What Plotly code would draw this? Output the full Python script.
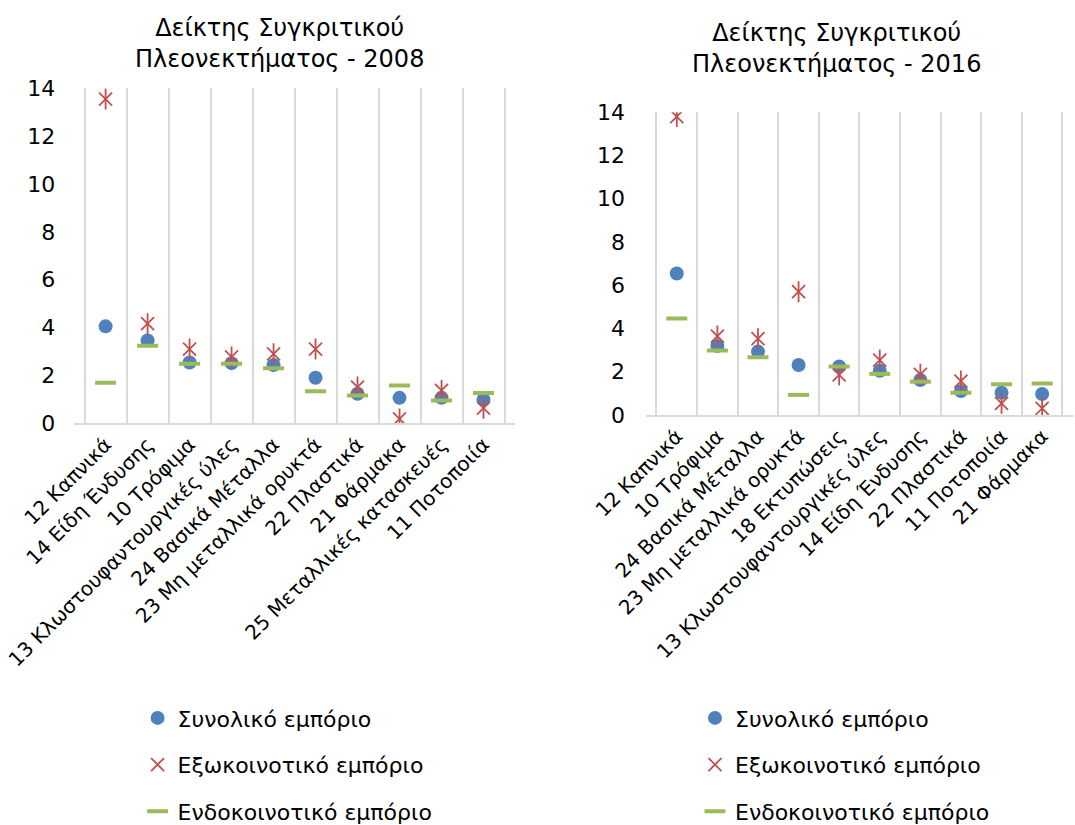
import plotly.graph_objects as go
from plotly.subplots import make_subplots

# 2008
cats_2008 = ["12 Καπνικά", "14 Είδη Ένδυσης", "10 Τρόφιμα", "13 Κλωστουφαντουργικές ύλες",
             "24 Βασικά Μέταλλα", "23 Μη μεταλλικά ορυκτά", "22 Πλαστικά", "21 Φάρμακα",
             "25 Μεταλλικές κατασκευές", "11 Ποτοποιία"]
total_2008 = [4.05, 3.46, 2.54, 2.51, 2.43, 1.90, 1.23, 1.06, 1.06, 0.98]
extra_2008 = [13.55, 4.16, 3.10, 2.77, 2.90, 3.10, 1.51, 0.18, 1.37, 0.63]
intra_2008 = [1.69, 3.24, 2.49, 2.49, 2.30, 1.34, 1.16, 1.58, 0.95, 1.26]

# 2016
cats_2016 = ["12 Καπνικά", "10 Τρόφιμα", "24 Βασικά Μέταλλα", "23 Μη μεταλλικά ορυκτά",
             "18 Εκτυπώσεις", "13 Κλωστουφαντουργικές ύλες", "14 Είδη Ένδυσης", "22 Πλαστικά",
             "11 Ποτοποιία", "21 Φάρμακα"]
total_2016 = [6.54, 3.19, 2.93, 2.31, 2.24, 2.04, 1.62, 1.11, 1.03, 0.97]
extra_2016 = [13.8, 3.65, 3.53, 5.70, 1.85, 2.54, 1.88, 1.57, 0.54, 0.31]
intra_2016 = [4.46, 2.98, 2.67, 0.93, 2.24, 1.90, 1.54, 1.03, 1.42, 1.46]

series_names = ["Συνολικό εμπόριο", "Εξωκοινοτικό εμπόριο", "Ενδοκοινοτικό εμπόριο"]
FONT = "DejaVu Sans"
BLUE, RED, GREEN = "#4F81BD", "#C0504D", "#9BBB59"
GRID = "#D9D9D9"

fig = make_subplots(rows=1, cols=2)

panels = [
    (cats_2008, total_2008, extra_2008, intra_2008, 1, "legend"),
    (cats_2016, total_2016, extra_2016, intra_2016, 2, "legend2"),
]
for cats, tot, ext, intra, col, leg in panels:
    fig.add_trace(go.Scatter(x=cats, y=tot, mode="markers", name=series_names[0], legend=leg,
                             legendgroup=f"{leg}a",
                             marker=dict(symbol="circle", size=14, color=BLUE)), row=1, col=col)
    fig.add_trace(go.Scatter(x=cats, y=ext, mode="markers", name=series_names[1], legend=leg,
                             legendgroup=f"{leg}b",
                             marker=dict(symbol="x-thin-open", size=13, color=RED,
                                         line=dict(color=RED, width=1.8))), row=1, col=col)
    # vertical stroke of the six-armed star
    fig.add_trace(go.Scatter(x=cats, y=ext, mode="markers", name=series_names[1], legend=leg,
                             legendgroup=f"{leg}b", showlegend=False, hoverinfo="skip",
                             marker=dict(symbol="line-ns-open", size=15, color=RED,
                                         line=dict(color=RED, width=1.8))), row=1, col=col)
    fig.add_trace(go.Scatter(x=cats, y=intra, mode="markers", name=series_names[2], legend=leg,
                             legendgroup=f"{leg}c",
                             marker=dict(symbol="line-ew-open", size=15, color=GREEN,
                                         line=dict(color=GREEN, width=4))), row=1, col=col)

fig.update_xaxes(type="category", tickson="boundaries", showgrid=True, gridcolor=GRID, gridwidth=1.5,
                 showline=True, linecolor=GRID, linewidth=1.5, ticks="", tickangle=-45,
                 tickfont=dict(size=20, color="black"), automargin=False)
fig.update_yaxes(range=[0, 14], dtick=2, showgrid=False, zeroline=False, showline=False,
                 tickfont=dict(size=22, color="black"), ticks="", automargin=False)

fig.update_xaxes(domain=[0.069, 0.479], row=1, col=1)
fig.update_yaxes(domain=[0.487, 0.893], ticklabelstandoff=18, row=1, col=1)
fig.update_xaxes(domain=[0.601, 0.998], row=1, col=2)
fig.update_yaxes(domain=[0.497, 0.864], ticklabelstandoff=20, row=1, col=2)

fig.add_annotation(text="Δείκτης Συγκριτικού<br>Πλεονεκτήματος - 2008", x=0.26, y=0.985,
                   xref="paper", yref="paper", xanchor="center", yanchor="top", showarrow=False,
                   font=dict(size=24, color="black", family=FONT))
fig.add_annotation(text="Δείκτης Συγκριτικού<br>Πλεονεκτήματος - 2016", x=0.778, y=0.979,
                   xref="paper", yref="paper", xanchor="center", yanchor="top", showarrow=False,
                   font=dict(size=24, color="black", family=FONT))

leg_style = dict(orientation="v", yanchor="top", xanchor="left", font=dict(size=22, color="black"),
                 itemwidth=30, tracegroupgap=15, bgcolor="rgba(0,0,0,0)")
fig.update_layout(
    legend=dict(x=0.128, y=0.155, **leg_style),
    legend2=dict(x=0.6465, y=0.155, **leg_style),
    font=dict(family=FONT, color="black"),
    width=1075, height=825,
    margin=dict(l=0, r=0, t=0, b=0, autoexpand=False),
    plot_bgcolor="white", paper_bgcolor="white",
    showlegend=True,
)

# drop the browser's default page margin so the figure sits at the window corner
fig.write_html("out.html", config={"displayModeBar": False},
               post_script="document.body.style.margin = '0';")
